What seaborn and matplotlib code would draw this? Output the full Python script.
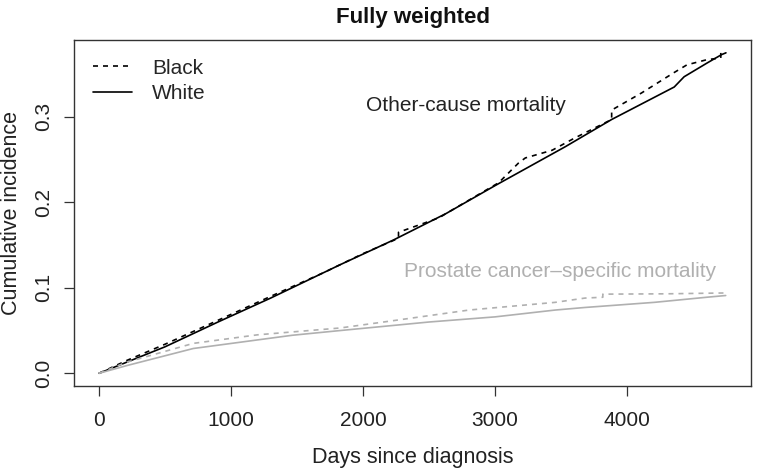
import matplotlib
matplotlib.use("Agg")
import matplotlib.pyplot as plt
import seaborn as sns
import pandas as pd
from matplotlib.lines import Line2D

# cumulative incidence
oc_white_days = [0, 210, 500, 901, 1300, 1826, 2231, 2630, 3005, 3531, 3884, 4358, 4433, 4606, 4718, 4750]
oc_white_ci = [0, 0.013, 0.031, 0.060, 0.088, 0.127, 0.156, 0.187, 0.220, 0.265, 0.297, 0.335, 0.347, 0.363, 0.373, 0.375]

oc_black_days = [0, 210, 500, 901, 1300, 1705, 2000, 2269, 2269, 2577, 2630, 3028, 3178, 3230, 3433,
                 3600, 3884, 3884, 4110, 4358, 4455, 4606, 4711, 4711, 4750]
oc_black_ci = [0, 0.015, 0.034, 0.062, 0.090, 0.118, 0.140, 0.158, 0.165, 0.182, 0.187, 0.223, 0.246, 0.252, 0.261,
               0.275, 0.297, 0.308, 0.328, 0.352, 0.361, 0.367, 0.369, 0.375, 0.375]

pc_white_days = [0, 210, 714, 1465, 1826, 2500, 3000, 3456, 3681, 4207, 4606, 4748]
pc_white_ci = [0, 0.009, 0.029, 0.0445, 0.050, 0.060, 0.066, 0.074, 0.077, 0.083, 0.089, 0.091]

pc_black_days = [0, 210, 714, 1200, 1826, 2156, 2803, 3456, 3681, 3817, 3817, 4300, 4750]
pc_black_ci = [0, 0.013, 0.035, 0.045, 0.053, 0.060, 0.074, 0.083, 0.088, 0.089, 0.0926, 0.093, 0.094]

x_ticks = [0, 1000, 2000, 3000, 4000]
y_ticks = [0.0, 0.1, 0.2, 0.3]

sns.set_theme(style="ticks")
plt.rcParams['font.family'] = ['Liberation Sans', 'DejaVu Sans']

fig = plt.figure(figsize=(7.58, 4.68), dpi=100)
ax = fig.add_axes([0.0976, 0.175, 0.8932, 0.7395])

series = [
    (oc_black_days, oc_black_ci, "black", (3, 3)),
    (oc_white_days, oc_white_ci, "black", None),
    (pc_black_days, pc_black_ci, "#b0b0b0", (3, 3)),
    (pc_white_days, pc_white_ci, "#b0b0b0", None),
]
for days, ci, col, dash in series:
    d = pd.DataFrame({"day": days, "ci": ci})
    l = sns.lineplot(data=d, x="day", y="ci", estimator=None, sort=False, color=col, lw=1.2, ax=ax)
    if dash is not None:
        l.lines[-1].set_dashes(dash)

ax.set_xlim(-190, 4940)
ax.set_ylim(-0.015, 0.39)
ax.set_xticks(x_ticks)
ax.set_xticklabels([str(t) for t in x_ticks])
ax.set_yticks(y_ticks)
ax.set_yticklabels(["%.1f" % t for t in y_ticks], rotation=90, va="center")
ax.tick_params(axis="both", labelsize=15, length=7, width=0.9, color="#333333", labelcolor="#222222")
ax.tick_params(axis="x", pad=11)
ax.tick_params(axis="y", pad=8)

for s in ax.spines.values():
    s.set_visible(True)
    s.set_color("#333333")
    s.set_linewidth(1.0)

ax.text(2780, 0.313, "Other-cause mortality", ha="center", va="center", fontsize=15, color="#222222")
ax.text(3490, 0.119, "Prostate cancer\u2013specific mortality", ha="center", va="center", fontsize=15, color="#b0b0b0")

handles = [Line2D([0], [0], color="black", lw=1.2, dashes=(3, 3)),
           Line2D([0], [0], color="black", lw=1.2)]
ax.legend(handles, ["Black", "White"], loc="upper left", frameon=False, fontsize=15,
          handlelength=1.9, handletextpad=0.95, labelspacing=0.32, borderaxespad=0.5)

ax.set_xlabel("Days since diagnosis", fontsize=15.5, labelpad=12, color="#222222")
ax.set_ylabel("Cumulative incidence", fontsize=15.5, labelpad=9, color="#222222")
ax.set_title("Fully weighted", fontsize=16, fontweight="bold", pad=12, color="#111111")

fig.savefig("out.png", dpi=100)
